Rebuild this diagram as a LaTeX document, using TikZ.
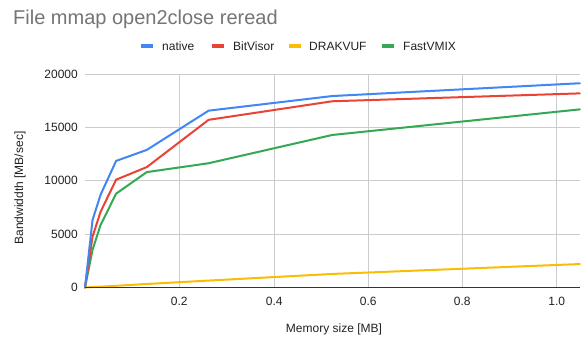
\documentclass[tikz,border=0pt]{standalone}
\usepackage{fontspec}
\setmainfont{Liberation Sans}
\definecolor{cnative}{HTML}{4285F4}
\definecolor{cbit}{HTML}{EA4335}
\definecolor{cdrak}{HTML}{FBBC04}
\definecolor{cfast}{HTML}{34A853}
\definecolor{gridc}{HTML}{CCCCCC}
\definecolor{axisc}{HTML}{333333}
\definecolor{titlec}{HTML}{757575}
\definecolor{labc}{HTML}{222222}
\begin{document}
\begin{tikzpicture}[x=1pt,y=-1pt,
  title/.style={font=\fontsize{20}{22}\selectfont, text=titlec, anchor=base west, inner sep=0pt},
  lab/.style={font=\fontsize{12}{14}\selectfont, text=labc, inner sep=0pt},
  ytick/.style={lab, anchor=east},
  xtick/.style={lab, anchor=center},
  legtext/.style={lab, anchor=west},
  legmark/.style={line width=3.5pt},
  gridline/.style={gridc, line width=0.9pt},
  series/.style={line width=2pt, line join=round, line cap=round}]
\useasboundingbox (0,0) rectangle (582,343);
\fill[white] (0,0) rectangle (582,343);
% title
\node[title] (title) at (13,24) {File mmap open2close reread};
% legend
\coordinate (l1a) at (141,46); \coordinate (l1b) at (153,46);
\draw[legmark, cnative] (l1a) -- (l1b);
\node[legtext] (t1) at (162,46) {native};
\coordinate (l2a) at (212,46); \coordinate (l2b) at (224,46);
\draw[legmark, cbit] (l2a) -- (l2b);
\node[legtext] (t2) at (233,46) {BitVisor};
\coordinate (l3a) at (289,46); \coordinate (l3b) at (301,46);
\draw[legmark, cdrak] (l3a) -- (l3b);
\node[legtext] (t3) at (309,46) {DRAKVUF};
\coordinate (l4a) at (382,46); \coordinate (l4b) at (394,46);
\draw[legmark, cfast] (l4a) -- (l4b);
\node[legtext] (t4) at (403,46) {FastVMIX};
% grid
\foreach \yy in {74,127.3,180.7,234} \draw[gridline] (85,\yy) -- (580,\yy);
\foreach \xx in {179.3,274.3,368.3,462.3,556.7} \draw[gridline] (\xx,74) -- (\xx,287.5);
% y tick labels
\node[ytick] (y0) at (78,287.5) {0};
\node[ytick] (y1) at (78,234) {5000};
\node[ytick] (y2) at (78,180.7) {10000};
\node[ytick] (y3) at (78,127.3) {15000};
\node[ytick] (y4) at (78,74) {20000};
% x tick labels
\node[xtick] (x1) at (179.3,301) {0.2};
\node[xtick] (x2) at (274.3,301) {0.4};
\node[xtick] (x3) at (368.3,301) {0.6};
\node[xtick] (x4) at (462.3,301) {0.8};
\node[xtick] (x5) at (556.7,301) {1.0};
% axis titles
\node[lab] (xlab) at (334,329) {Memory size [MB]};
\node[lab, rotate=90] (ylab) at (20,188) {Bandwiddth [MB/sec]};
% data
\begin{scope}[xshift=85pt, yshift=-287.5pt, x=471.75pt, y=0.010665pt]
\draw[series, cdrak] plot coordinates {(0,0) (0.016,40) (0.033,80) (0.066,160) (0.131,330) (0.262,650) (0.524,1270) (1.049,2200)};
\draw[series, cfast] plot coordinates {(0,0) (0.016,3530) (0.033,5860) (0.066,8800) (0.131,10820) (0.262,11650) (0.524,14300) (1.049,16700)};
\draw[series, cbit] plot coordinates {(0,0) (0.016,4770) (0.033,7100) (0.066,10110) (0.131,11290) (0.262,15720) (0.524,17460) (1.049,18200)};
\draw[series, cnative] plot coordinates {(0,0) (0.016,6330) (0.033,8700) (0.066,11870) (0.131,12900) (0.262,16580) (0.524,17950) (1.049,19150)};
\end{scope}
% x axis line
\coordinate (ax0) at (85,287.5); \coordinate (ax1) at (580,287.5);
\draw[axisc, line width=1pt] (ax0) -- (ax1);
\end{tikzpicture}
\end{document}
